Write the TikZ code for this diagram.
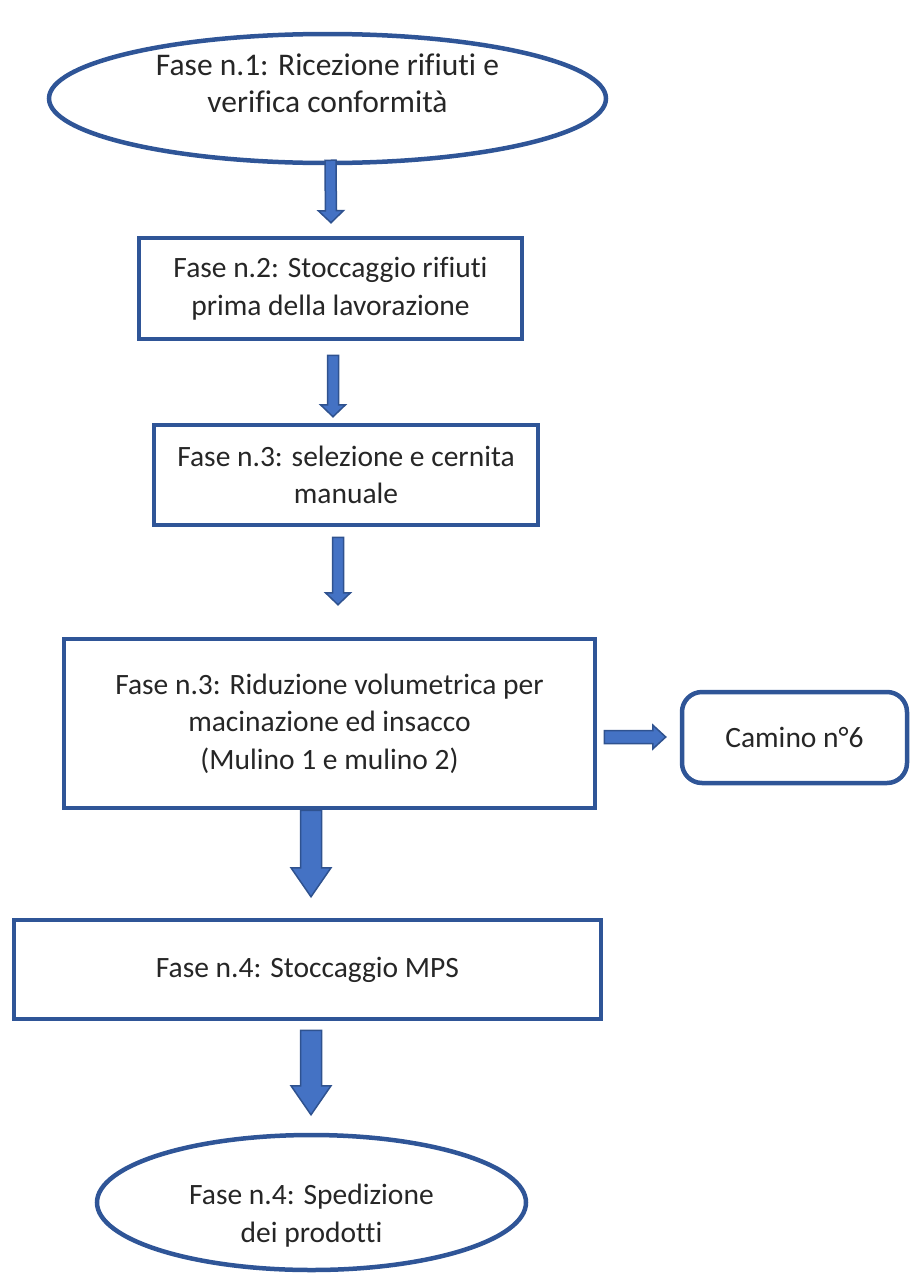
\documentclass[tikz,border=0pt]{standalone}
\usepackage{fontspec}
\setmainfont{Carlito}[Ligatures=CommonOff]
\usepackage{tikz}
\usetikzlibrary{calc,shapes.geometric}

\definecolor{boxblue}{HTML}{2F5597}
\definecolor{arrowfill}{HTML}{4472C4}
\definecolor{arrowline}{HTML}{2F528F}
\definecolor{txt}{HTML}{262626}

\tikzset{
  fase/.style={draw=boxblue, line width=4.5pt, rectangle, inner sep=0pt, align=center,
    text=txt, font=\fontsize{29.5}{37.5}\selectfont},
  faseell/.style={fase, ellipse},
  barrow/.style={fill=arrowfill, draw=arrowline, line width=1.5pt, line join=miter}
}

% block arrow: start, end, half shaft, half head, head length
\newcommand{\blockarrow}[5]{%
  \path (#1) coordinate (bs) (#2) coordinate (be);
  \coordinate (bh) at ($(be)!#5!(bs)$);
  \filldraw[barrow] ($(bs)!#3!90:(be)$) -- ($(bh)!#3!90:(be)$) -- ($(bh)!#4!90:(be)$)
    -- (be) -- ($(bh)!#4!-90:(be)$) -- ($(bh)!#3!-90:(be)$) -- ($(bs)!#3!-90:(be)$) -- cycle;
}

\begin{document}
\begin{tikzpicture}[x=1pt,y=-1pt]
 \useasboundingbox (0,0) rectangle (911,1277);

    %Phases
    \node[faseell, minimum width=557pt, minimum height=129pt, font=\fontsize{31.5}{37}\selectfont] (fase1) at (327.5,98.5)
      {Fase n.1: Ricezione rifiuti e\\verifica conformità\rule[-30pt]{0pt}{1pt}};
    \node[fase, minimum width=383pt, minimum height=101pt] (fase2) at (330.5,288.5)
      {Fase n.2: Stoccaggio rifiuti\\prima della lavorazione};
    \node[fase, minimum width=384pt, minimum height=100pt] (fase3) at (346,475)
      {Fase n.3: selezione e cernita\\manuale};
    \node[fase, minimum width=531pt, minimum height=169pt] (fase4) at (329.5,723.5)
      {Fase n.3: Riduzione volumetrica per\\macinazione ed insacco\\(Mulino 1 e mulino 2)};
    \node[fase, rounded corners=20pt, minimum width=225pt, minimum height=91pt] (camino) at (794.5,737.5)
      {Camino n°6};
    \node[fase, minimum width=587pt, minimum height=99pt] (fase5) at (307.5,969.5)
      {Fase n.4: Stoccaggio MPS};
    \node[faseell, minimum width=429pt, minimum height=135pt] (fase6) at (311.5,1202.5)
      {\rule{0pt}{47pt}Fase n.4: Spedizione\\dei prodotti};

    % Arrows
    \blockarrow{$(fase1.south)+(3,-5)$}{$(fase2.north)+(0.5,-13)$}{5.5pt}{12.5pt}{12pt}
    \blockarrow{$(fase2.south)+(2.5,14)$}{$(fase3.north)+(-13,-6)$}{5.5pt}{12.5pt}{12pt}
    \blockarrow{$(fase3.south)+(-8,10)$}{$(fase4.north)+(8.5,-32)$}{5.5pt}{12.5pt}{12pt}
    \blockarrow{$(fase4.south)+(-18.5,0)$}{$(fase5.north)+(3.5,-21)$}{10.5pt}{20pt}{29pt}
    \blockarrow{$(fase5.south)+(3.5,9)$}{$(fase6.north)+(-0.5,-18)$}{10.5pt}{20pt}{29pt}
    \blockarrow{$(fase4.east)+(7,13.5)$}{$(camino.west)+(-14,-0.5)$}{6.5pt}{12pt}{13pt}
\end{tikzpicture}
\end{document}
